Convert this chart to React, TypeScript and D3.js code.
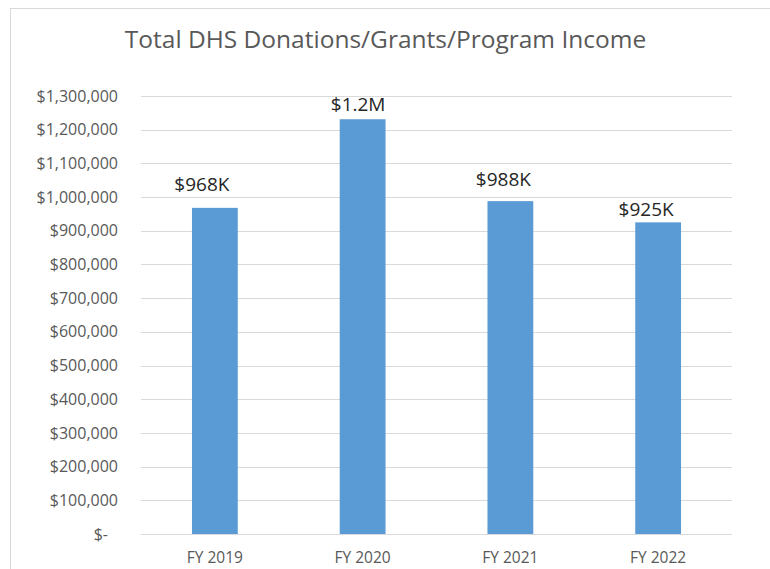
import React from "react";
import * as d3 from "d3";

const categories = ["FY 2019", "FY 2020", "FY 2021", "FY 2022"];
const values = [968000, 1231000, 988000, 925000];
const valueLabels = ["$968K", "$1.2M", "$988K", "$925K"];
const yTicks = [0, 100000, 200000, 300000, 400000, 500000, 600000, 700000, 800000, 900000, 1000000, 1100000, 1200000, 1300000];
const title = "Total DHS Donations/Grants/Program Income";

// label placement tweaks (layout only)
const labelDx = [-13, -4.5, -7, -12];
const labelGap = [17, 8, 15, 6];

const W = 770;
const H = 569;
const plot = { left: 141, right: 732, top: 96, bottom: 534 };
const font = "'Open Sans', 'Noto Sans', sans-serif";

export default function App() {
  const x = d3
    .scaleBand<string>()
    .domain(categories)
    .range([plot.left, plot.right])
    .paddingInner(0.69)
    .paddingOuter(0.345);
  const y = d3.scaleLinear().domain([0, 1300000]).range([plot.bottom, plot.top]);
  const fmt = (v: number) => (v === 0 ? "$-" : "$" + d3.format(",")(v));

  return (
    <svg
      width={W}
      height={H}
      style={{ position: "absolute", left: 0, top: 0, background: "#fff" }}
    >
      <rect x={10.5} y={8.5} width={820} height={620} fill="#fff" stroke="#D9D9D9" strokeWidth={1} />
      <text
        x={385.5}
        y={48}
        textAnchor="middle"
        fontFamily={font}
        fontSize={24.5}
        fill="#595959"
      >
        {title}
      </text>
      {yTicks.map((t) => (
        <g key={t}>
          <line
            x1={plot.left}
            x2={plot.right}
            y1={Math.round(y(t)) + 0.5}
            y2={Math.round(y(t)) + 0.5}
            stroke="#D9D9D9"
            strokeWidth={1}
          />
          <text
            x={t === 0 ? 108 : 118}
            y={y(t)}
            dy="0.35em"
            textAnchor="end"
            fontFamily={font}
            fontSize={16}
            fill="#595959"
          >
            {fmt(t)}
          </text>
        </g>
      ))}
      {categories.map((c, i) => (
        <g key={c}>
          <rect
            x={x(c)}
            y={y(values[i])}
            width={x.bandwidth()}
            height={y(0) - y(values[i])}
            fill="#5B9BD5"
          />
          <text
            x={(x(c) as number) + x.bandwidth() / 2 + labelDx[i]}
            y={y(values[i]) - labelGap[i]}
            textAnchor="middle"
            fontFamily={font}
            fontSize={19}
            fill="#262626"
          >
            {valueLabels[i]}
          </text>
          <text
            x={(x(c) as number) + x.bandwidth() / 2}
            y={563}
            textAnchor="middle"
            fontFamily={font}
            fontSize={15.5}
            fill="#595959"
          >
            {c}
          </text>
        </g>
      ))}
    </svg>
  );
}
